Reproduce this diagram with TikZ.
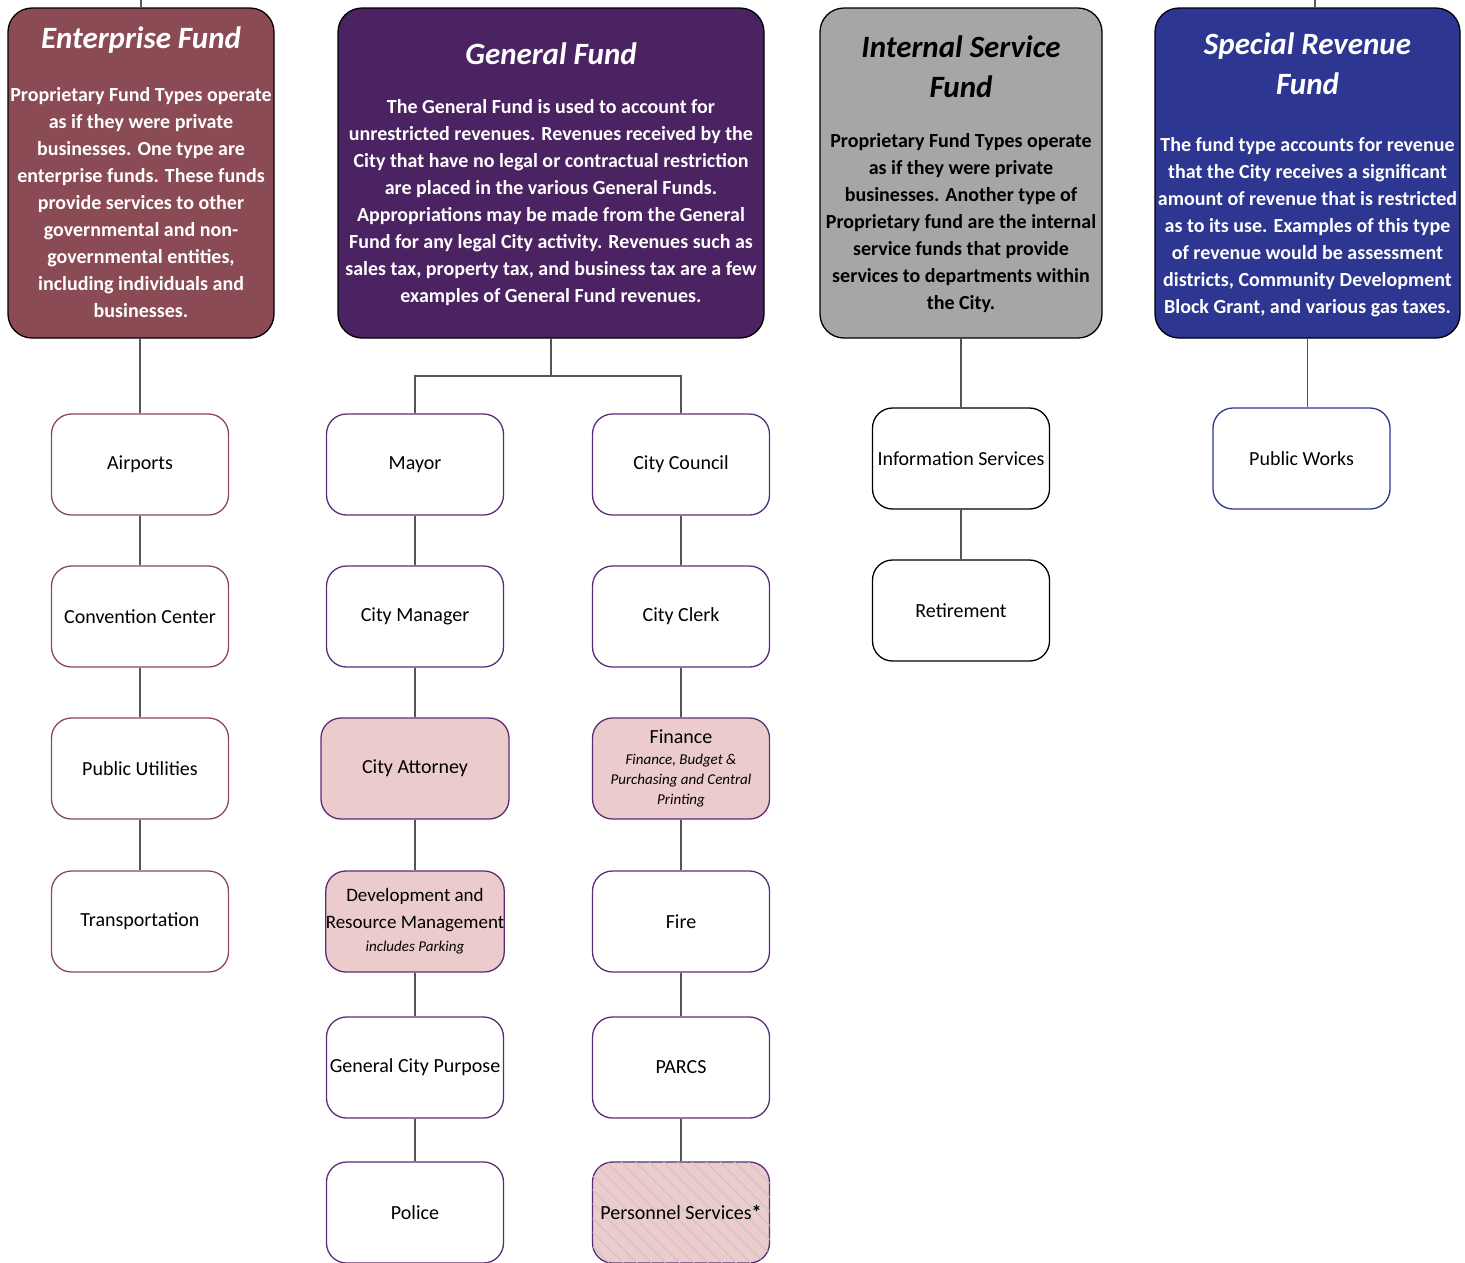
\documentclass[tikz,border=0pt]{standalone}
\usepackage{fontspec}
\setmainfont{Carlito}
\usepackage{xcolor}
\usetikzlibrary{positioning,patterns.meta}

\definecolor{entred}{HTML}{8B4B54}
\definecolor{genpurple}{HTML}{4B2262}
\definecolor{intgray}{HTML}{A6A6A6}
\definecolor{sprblue}{HTML}{2D3691}
\definecolor{unitpurple}{HTML}{5B2D77}
\definecolor{unitpink}{HTML}{ECCBCC}
\definecolor{linkgray}{HTML}{555555}

\newcommand{\subline}[1]{{\fontsize{15}{20}\selectfont\itshape #1}}

\begin{document}
\begin{tikzpicture}[x=1pt,y=-1pt,
    fundbox/.style={draw=black, line width=1.3pt, rounded corners=24pt, inner sep=0pt,
      minimum width=#1, minimum height=330pt},
    fundtitle/.style={align=center, font=\fontsize{31}{40}\selectfont\bfseries\itshape},
    fundbody/.style={align=center, font=\fontsize{20}{27}\selectfont\bfseries},
    unit/.style={draw=#1, fill=white, line width=1.3pt, rounded corners=20pt, inner sep=0pt,
      minimum width=177pt, minimum height=101pt, align=center,
      font=\fontsize{20}{27}\selectfont},
    pinkunit/.style={unit=unitpurple, fill=unitpink},
    link/.style={draw=linkgray, line width=1.2pt}
  ]
  \useasboundingbox (0,0) rectangle (1465,1262);

  % fund boxes
  \node[fundbox=266pt, fill=entred] (ent) at (141,173) {};
  \node[fundtitle, text=white] (enttitle) at (141,40) {Enterprise Fund};
  \node[fundbody, text=white] (entbody) at (141,203) {Proprietary Fund Types operate\\as if they were private\\businesses.  One type are\\enterprise funds.  These funds\\provide services to other\\governmental and non-\\governmental entities,\\including individuals and\\businesses.};

  \node[fundbox=426pt, fill=genpurple] (gen) at (551,173) {};
  \node[fundtitle, text=white] (gentitle) at (551,54) {General Fund};
  \node[fundbody, text=white] (genbody) at (551,203) {The General Fund is used to account for\\unrestricted revenues.  Revenues received by the\\City that have no legal or contractual restriction\\are placed in the various General Funds.\\Appropriations may be made from the General\\Fund for any legal City activity.  Revenues such as\\sales tax, property tax, and business tax are a few\\examples of General Fund revenues.};

  \node[fundbox=282pt, fill=intgray] (int) at (961,173) {};
  \node[fundtitle, text=black] (inttitle) at (961,67) {Internal Service\\Fund};
  \node[fundbody, text=black] (intbody) at (961,223) {Proprietary Fund Types operate\\as if they were private\\businesses.  Another type of\\Proprietary fund are the internal\\service funds that provide\\services to departments within\\the City.};

  \node[fundbox=305pt, fill=sprblue] (spr) at (1307.5,173) {};
  \node[fundtitle, text=white] (sprtitle) at (1307.5,64) {Special Revenue\\Fund};
  \node[fundbody, text=white] (sprbody) at (1307.5,227) {The fund type accounts for revenue\\that the City receives a significant\\amount of revenue that is restricted\\as to its use.  Examples of this type\\of revenue would be assessment\\districts, Community Development\\Block Grant, and various gas taxes.};

  % enterprise units
  \node[unit=entred] (airports) at (140,464.5) {Airports};
  \node[unit=entred] (convention) at (140,616.5) {Convention Center};
  \node[unit=entred] (utilities) at (140,768.5) {Public Utilities};
  \node[unit=entred] (transport) at (140,921.5) {Transportation};

  % general fund units
  \node[unit=unitpurple] (mayor) at (415,464.5) {Mayor};
  \node[unit=unitpurple] (manager) at (415,616.5) {City Manager};
  \node[pinkunit, minimum width=188pt] (attorney) at (415,768.5) {City Attorney};
  \node[pinkunit, font=\fontsize{19}{27}\selectfont] (devres) at (415,921.5) {Development and\\Resource Management\\[-4pt]\subline{includes Parking}};
  \node[unit=unitpurple] (purpose) at (415,1067.5) {General City Purpose};
  \node[unit=unitpurple] (police) at (415,1212.5) {Police};

  \node[unit=unitpurple] (council) at (681,464.5) {City Council};
  \node[unit=unitpurple] (clerk) at (681,616.5) {City Clerk};
  \node[pinkunit] (finance) at (681,768.5) {Finance\\[-6pt]\subline{Finance, Budget \&}\\[-7pt]\subline{Purchasing and Central}\\[-7pt]\subline{Printing}};
  \node[unit=unitpurple] (fire) at (681,921.5) {Fire};
  \node[unit=unitpurple] (parcs) at (681,1067.5) {PARCS};
  \node[unit=unitpurple, fill=unitpink, postaction={pattern={Lines[angle=-45,distance=10pt,line width=1pt]}, pattern color=gray!45}] (personnel) at (681,1212.5) {};
  \node[font=\fontsize{20}{27}\selectfont] (personneltext) at (personnel.center) {Personnel Services\textbf{*}};

  % internal service units
  \node[unit=black] (infoserv) at (961,458.5) {Information Services};
  \node[unit=black] (retire) at (961,610.5) {Retirement};

  % special revenue unit
  \node[unit=sprblue] (pubworks) at (1301.5,458.5) {Public Works};

  % connectors
  \coordinate (entup) at (141,0);
  \coordinate (sprup) at (1315,0);
  \coordinate (genbus) at (551,376);
  \draw[link] (ent.north) -- (entup);
  \draw[link] (spr.north -| sprup) -- (sprup);

  \draw[link] (ent.south -| airports) -- (airports.north);
  \draw[link] (airports) -- (convention);
  \draw[link] (convention) -- (utilities);
  \draw[link] (utilities) -- (transport);

  \draw[link] (gen.south) -- (genbus);
  \draw[link] (mayor.north) |- (genbus) -| (council.north);
  \draw[link] (mayor) -- (manager);
  \draw[link] (manager) -- (attorney);
  \draw[link] (attorney) -- (devres);
  \draw[link] (devres) -- (purpose);
  \draw[link] (purpose) -- (police);
  \draw[link] (council) -- (clerk);
  \draw[link] (clerk) -- (finance);
  \draw[link] (finance) -- (fire);
  \draw[link] (fire) -- (parcs);
  \draw[link] (parcs) -- (personnel);

  \draw[link] (int.south -| infoserv) -- (infoserv.north);
  \draw[link] (infoserv) -- (retire);

  \draw[link] (spr.south) -- (spr.south |- pubworks.north);
\end{tikzpicture}
\end{document}
